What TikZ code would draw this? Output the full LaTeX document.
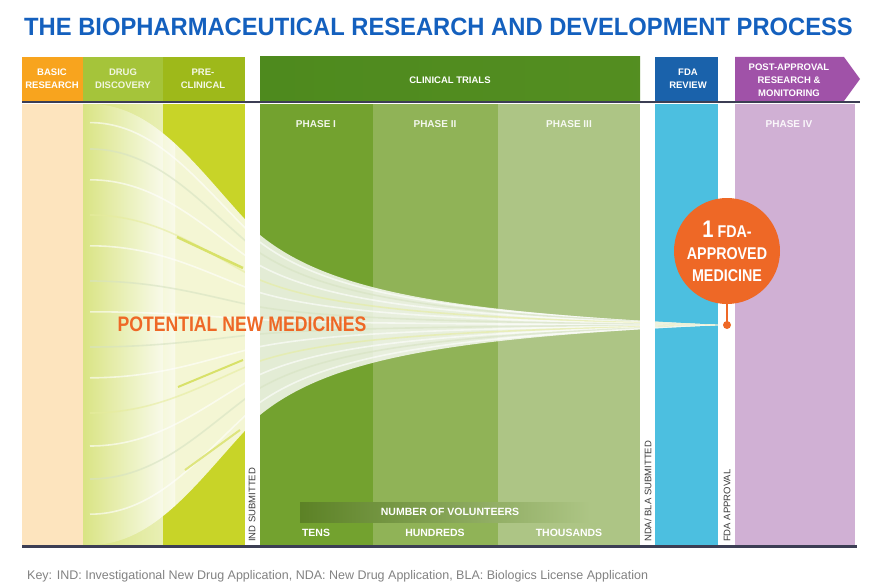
\documentclass[tikz,border=0pt]{standalone}
\usepackage{fontspec}
\setmainfont{Liberation Sans}
\newfontfamily\narrowfont[FakeStretch=0.84]{Liberation Sans}
\newfontfamily\titlefont[FakeStretch=0.95]{Liberation Sans}
\usepackage{xcolor}
\usepackage{tikz}
\usetikzlibrary{positioning}

\definecolor{titleblue}{RGB}{20,96,190}
\definecolor{basichead}{RGB}{248,164,30}
\definecolor{basicbody}{RGB}{253,228,190}
\definecolor{drughead}{RGB}{165,196,58}
\definecolor{drugbody}{RGB}{214,226,120}
\definecolor{prehead}{RGB}{158,185,26}
\definecolor{prebody}{RGB}{200,212,40}
\definecolor{clinhead}{RGB}{78,138,30}
\definecolor{phaseone}{RGB}{115,162,47}
\definecolor{phasetwo}{RGB}{144,179,87}
\definecolor{phasethree}{RGB}{173,197,133}
\definecolor{fdahead}{RGB}{26,98,171}
\definecolor{fdabody}{RGB}{76,191,224}
\definecolor{posthead}{RGB}{160,82,168}
\definecolor{postbody}{RGB}{208,176,212}
\definecolor{medorange}{RGB}{238,104,38}
\definecolor{rulegray}{RGB}{60,62,84}
\definecolor{stampgray}{RGB}{60,60,60}
\definecolor{keygray}{RGB}{130,130,130}

\begin{document}
\begin{tikzpicture}[x=1pt, y=-1pt, every node/.style={inner sep=0pt},
  hdr/.style={text=white, align=center, font=\bfseries\fontsize{9.5}{13}\selectfont},
  phase/.style={text=white, opacity=.9, font=\bfseries\fontsize{10}{11}\selectfont},
  stamp/.style={rotate=90, anchor=west, text=stampgray, font=\fontsize{9.5}{11}\selectfont},
  vol/.style={text=white, font=\bfseries\fontsize{10.5}{12}\selectfont}]
   \useasboundingbox (0,0) rectangle (876,586);
   \fill[white] (0,0) rectangle (876,586);

   % Title
   \node[anchor=west, text=titleblue, font=\titlefont\bfseries\fontsize{25}{28}\selectfont] (title) at (24,27)
     {THE BIOPHARMACEUTICAL RESEARCH AND DEVELOPMENT PROCESS};

   % Column bodies
   \fill[basicbody] (22,104) rectangle (83,545);
   \shade[left color=drugbody, right color=drugbody!55!white] (83,104) rectangle (163,545);
   \fill[prebody] (163,104) rectangle (245,545);
   \fill[phaseone] (260,104) rectangle (373,545);
   \fill[phasetwo] (373,104) rectangle (498,545);
   \fill[phasethree] (498,104) rectangle (640,545);
   \fill[fdabody] (655,104) rectangle (718,545);
   \fill[postbody] (735,104) rectangle (855,545);

   % Funnel of candidates
   \begin{scope}
     \clip (83,104) -- (90,104) .. controls (160,104) and (205,180) .. (260,235)
       .. controls (330,292) and (450,312) .. (720,325)
       .. controls (450,338) and (330,358) .. (260,415)
       .. controls (205,470) and (160,545) .. (90,545) -- (83,545) -- cycle;
     \shade[left color=drugbody!90!white, right color=white, opacity=.9] (83,100) rectangle (175,550);
     \fill[white, opacity=.8] (175,100) rectangle (720,550);
     \foreach \t/\c in {-0.92/white, -0.8/phasethree!50!white, -0.66/white, -0.5/prebody!45!white,
                       -0.36/white, -0.2/phasethree!50!white, -0.06/white, 0.1/phasethree!50!white,
                       0.24/white, 0.4/prebody!45!white, 0.55/white, 0.7/phasethree!50!white, 0.86/white}
       \draw[\c, line width=1.6, opacity=.6] (90,{325+220*\t}) .. controls (160,{325+220*\t}) and (205,{325+145*\t})
         .. (260,{325+90*\t}) .. controls (330,{325+33*\t}) and (450,{325+13*\t}) .. (720,325);
   \end{scope}
   % short lime streaks
   \draw[prebody!70!white, line width=2.5] (177,237) -- (243,268);
   \draw[prebody!70!white, line width=2] (178,387) -- (243,360);
   \draw[prebody!60!white, line width=2] (185,470) -- (240,430);

   % White gaps
   \fill[white] (245,104) rectangle (260,545);
   \fill[white] (640,104) rectangle (655,545);
   \fill[white] (718,104) rectangle (735,545);

   % Headers
   \fill[basichead] (22,57) rectangle (83,101);
   \fill[drughead] (83,57) rectangle (163,101);
   \fill[prehead] (163,57) rectangle (245,101);
   \shade[left color=clinhead, right color=clinhead!85!phaseone] (260,57) rectangle (640,101);
   \fill[fdahead] (655,57) rectangle (718,101);
   \fill[posthead] (735,57) -- (844,57) -- (860,79) -- (844,101) -- (735,101) -- cycle;
   \draw[rulegray, line width=2.5] (22,102) -- (860,102);
   \draw[rulegray, line width=2.5] (22,546.5) -- (857,546.5);

   \node[hdr] (basic) at (52,79) {BASIC\\RESEARCH};
   \node[hdr, text=white!85!drughead] (drug) at (123,79) {DRUG\\DISCOVERY};
   \node[hdr, text=white!90!prehead] (precl) at (203,79) {PRE-\\CLINICAL};
   \node[hdr] (clinical) at (450,80) {CLINICAL TRIALS};
   \node[hdr] (fda) at (688,79) {FDA\\REVIEW};
   \node[hdr] (post) at (789,80) {POST-APPROVAL\\RESEARCH \&\\MONITORING};

   % Phases
   \node[phase] (p1) at (316,124) {PHASE I};
   \node[phase] (p2) at (435,124) {PHASE II};
   \node[phase] (p3) at (569,124) {PHASE III};
   \node[phase] (p4) at (789,124) {PHASE IV};

   \node[text=medorange, font=\narrowfont\bfseries\fontsize{21}{24}\selectfont] (potential) at (242,324) {POTENTIAL NEW MEDICINES};

   % Milestones
   \node[stamp] (ind) at (252,542) {IND SUBMITTED};
   \node[stamp] (nda) at (648,542) {NDA/ BLA SUBMITTED};
   \node[stamp] (approval) at (727,542) {FDA APPROVAL};

   % Approved medicine
   \node[circle, fill=medorange, minimum size=8] (dot) at (727,325) {};
   \draw[medorange, line width=2] (727,290) -- (dot.center);
   \node[circle, fill=medorange, minimum size=106, text=white, align=center,
         font=\narrowfont\bfseries\fontsize{17}{22}\selectfont] (approved) at (727,251)
     {{\fontsize{24}{22}\selectfont 1} FDA-\\APPROVED\\MEDICINE};

   % Volunteers
   \shade[left color=phaseone!80!black, right color=phasethree] (300,502) rectangle (590,522);
   \node[vol] (volunteers) at (450,512) {NUMBER OF VOLUNTEERS};
   \node[vol] (tens) at (316,533) {TENS};
   \node[vol] (hundreds) at (435,533) {HUNDREDS};
   \node[vol] (thousands) at (569,533) {THOUSANDS};

   % Key
   \node[anchor=west, text=keygray, font=\fontsize{12.5}{14}\selectfont] (key) at (27,576)
     {Key: IND: Investigational New Drug Application, NDA: New Drug Application, BLA: Biologics License Application};
\end{tikzpicture}
\end{document}
